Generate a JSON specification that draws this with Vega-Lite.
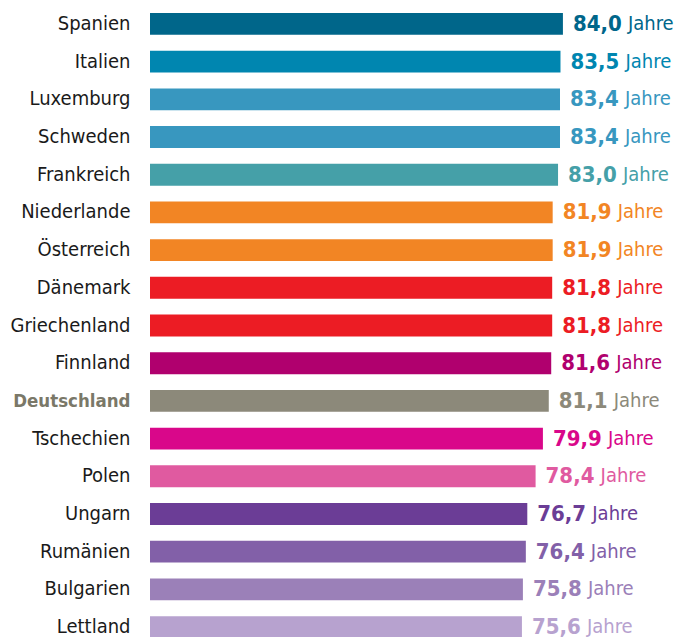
{
  "$schema": "https://vega.github.io/schema/vega-lite/v6.json",
  "autosize": {"type": "none"},
  "padding": {"left": 150, "top": 13, "right": 0, "bottom": 0},
  "width": 538,
  "height": 625,
  "background": "white",
  "config": {"view": {"stroke": null}, "font": "DejaVu Sans Condensed, sans-serif"},
  "data": {"values": [
    {"land": "Spanien", "wert": 84.0, "txt": "84,0"},
    {"land": "Italien", "wert": 83.5, "txt": "83,5"},
    {"land": "Luxemburg", "wert": 83.4, "txt": "83,4"},
    {"land": "Schweden", "wert": 83.4, "txt": "83,4"},
    {"land": "Frankreich", "wert": 83.0, "txt": "83,0"},
    {"land": "Niederlande", "wert": 81.9, "txt": "81,9"},
    {"land": "Österreich", "wert": 81.9, "txt": "81,9"},
    {"land": "Dänemark", "wert": 81.8, "txt": "81,8"},
    {"land": "Griechenland", "wert": 81.8, "txt": "81,8"},
    {"land": "Finnland", "wert": 81.6, "txt": "81,6"},
    {"land": "Deutschland", "wert": 81.1, "txt": "81,1"},
    {"land": "Tschechien", "wert": 79.9, "txt": "79,9"},
    {"land": "Polen", "wert": 78.4, "txt": "78,4"},
    {"land": "Ungarn", "wert": 76.7, "txt": "76,7"},
    {"land": "Rumänien", "wert": 76.4, "txt": "76,4"},
    {"land": "Bulgarien", "wert": 75.8, "txt": "75,8"},
    {"land": "Lettland", "wert": 75.6, "txt": "75,6"}
  ]},
  "encoding": {
    "y": {
      "field": "land", "type": "nominal", "sort": null, "title": null,
      "scale": {"paddingInner": 0.42, "paddingOuter": 0},
      "axis": {
        "domain": false, "ticks": false, "labelPadding": 20,
        "labelFontSize": {"condition": {"test": "datum.value === 'Deutschland'", "value": 18.5}, "value": 20},
        "labelColor": {"condition": {"test": "datum.value === 'Deutschland'", "value": "#7a7868"}, "value": "#1a1a1a"},
        "labelFontWeight": {"condition": {"test": "datum.value === 'Deutschland'", "value": "bold"}, "value": "normal"},
        "labelFont": "DejaVu Sans Condensed, sans-serif"
      }
    },
    "color": {
      "field": "land", "type": "nominal", "legend": null,
      "scale": {
        "domain": ["Spanien","Italien","Luxemburg","Schweden","Frankreich","Niederlande","Österreich","Dänemark","Griechenland","Finnland","Deutschland","Tschechien","Polen","Ungarn","Rumänien","Bulgarien","Lettland"],
        "range": ["#00668a","#0086b0","#3897bf","#3897bf","#45a0a8","#f28524","#f28524","#ec1c24","#ec1c24","#b0006e","#8c897a","#d9078a","#e05aa0","#6b3d96","#8260a8","#9b80b8","#b7a2cf"]
      }
    }
  },
  "layer": [
    {
      "mark": {"type": "bar"},
      "encoding": {
        "x": {"field": "wert", "type": "quantitative", "scale": {"domain": [-0.615, 109.63], "zero": false, "nice": false}, "axis": null},
        "x2": {"datum": -0.615}
      }
    },
    {
      "mark": {"type": "text", "align": "left", "baseline": "middle", "dx": 10, "fontSize": 22, "fontWeight": "bold", "font": "DejaVu Sans Condensed, sans-serif"},
      "encoding": {
        "x": {"field": "wert", "type": "quantitative"},
        "text": {"field": "txt"}
      }
    },
    {
      "mark": {"type": "text", "align": "left", "baseline": "middle", "dx": 65, "fontSize": 20, "font": "DejaVu Sans Condensed, sans-serif"},
      "encoding": {
        "x": {"field": "wert", "type": "quantitative"},
        "text": {"value": "Jahre"}
      }
    }
  ]
}
